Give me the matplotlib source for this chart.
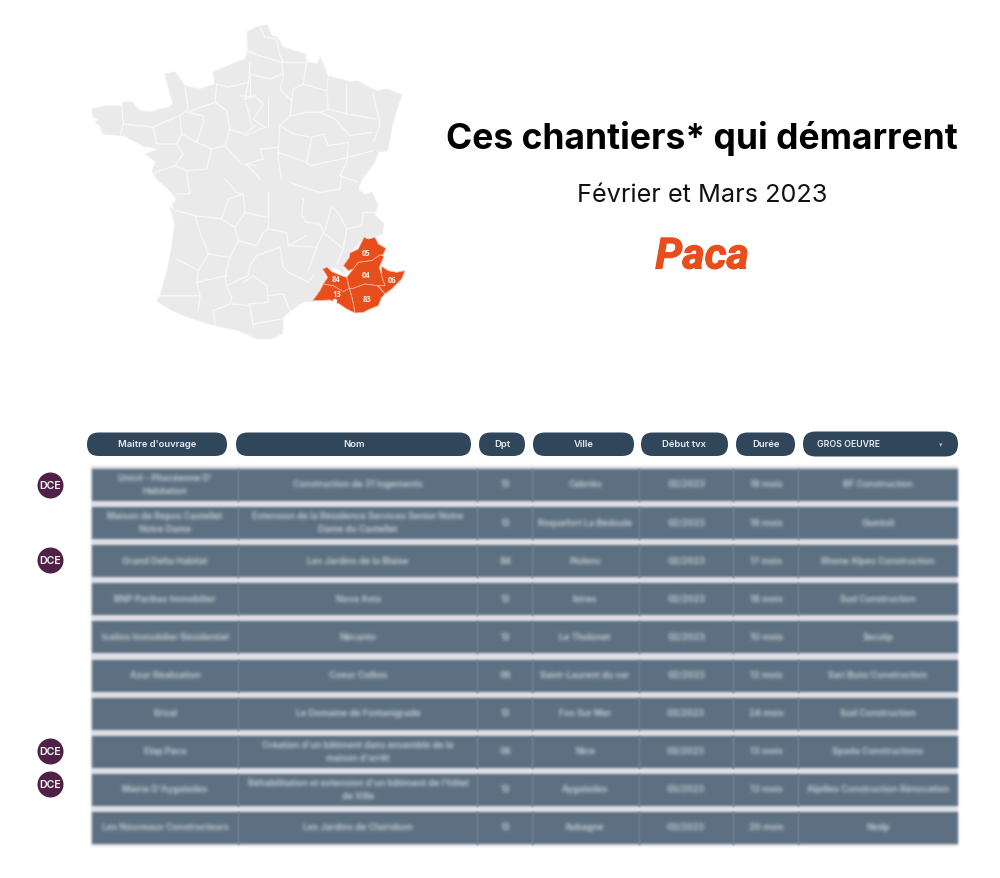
import numpy as np
import matplotlib
matplotlib.use("Agg")
import matplotlib.pyplot as plt
import matplotlib.patheffects as pe
from matplotlib.patches import Polygon, Rectangle, Circle, FancyBboxPatch

# Contour de la France (pixels)
france_outline = [(247,33),(257,28),(267,26),(272,37),(277,38),(283,48),(295,52),(305,55),(307,63),(318,65),(320,58),
    (323,65),(328,77),(340,80),(350,83),(358,82),(368,88),(377,92),(387,90),(402,96),(397,110),(392,127),(390,140),
    (387,152),(378,153),(375,163),(370,170),(362,180),(358,190),(365,196),(372,193),(378,207),(374,215),(384,225),
    (382,235),(373,238),(364,238),(350,254),(343,267),(345,275),(335,268),(323,270),(327,285),(313,302),(303,303),
    (290,312),(283,318),(283,328),(282,335),(270,340),(257,340),(240,332),(217,327),(193,320),(173,312),(157,302),
    (160,297),(167,273),(172,247),(175,225),(170,208),(174,212),(185,233),(176,214),(172,205),(177,200),(168,190),
    (157,180),(152,172),(156,163),(145,155),(160,150),(143,147),(125,137),(103,135),(100,127),(95,123),(100,120),
    (93,118),(92,110),(105,107),(122,107),(123,103),(132,103),(140,112),(152,113),(160,110),(170,108),(173,105),
    (165,75),(175,73),(185,87),(200,90),(215,85),(213,73),(225,68),(245,60),(248,52)]

# Limites des departements, par zone de l'image (zoom x3)
borders_nw = [
    [(110,250),(115,315),(105,350)], [(115,315),(160,320),(205,325)], [(205,325),(235,310),(285,290),(310,270),(300,205)],
    [(285,290),(290,345),(275,375),(215,375),(205,325)], [(290,345),(335,370),(355,310),(355,290),(305,280)],
    [(305,280),(390,250),(395,195)], [(390,250),(425,275),(435,330),(420,380),(380,390),(335,370)],
    [(380,390),(365,450),(305,455),(270,440),(210,460)], [(275,375),(295,405),(270,440)],
    [(430,330),(480,345),(510,320)], [(395,195),(430,205),(490,190)], [(490,190),(480,240),(510,230)],
    [(480,240),(500,320)], [(420,380),(470,435),(510,440)], [(490,95),(510,100)], [(495,130),(490,190)],
    [(305,455),(310,495)],
]
borders_ne = [
    [(10,95),(60,110),(110,125),(125,130),(200,130)], [(60,25),(75,55),(110,60),(120,110),(130,130)],
    [(125,130),(130,170),(120,210),(155,245)], [(200,130),(190,195),(160,210),(155,245),(150,290),(120,320)],
    [(190,195),(260,215),(265,270),(240,280)], [(265,170),(260,215)], [(320,195),(320,285),(265,270)],
    [(320,285),(410,300)], [(400,225),(415,290),(420,320),(400,370)], [(240,280),(200,280),(155,290)],
    [(240,280),(285,300),(330,350),(395,340)], [(120,320),(160,345),(215,355),(250,345),(265,380),(325,370)],
    [(120,320),(115,385),(60,390)], [(0,230),(50,235),(70,255),(40,300),(75,325)], [(30,165),(30,230)],
    [(30,165),(90,180),(125,165)], [(75,325),(15,350)], [(85,235),(85,325)],
    [(215,355),(200,430),(210,440),(305,420),(400,395)], [(325,370),(320,430),(300,470),(355,490)],
    [(115,385),(115,420),(125,480)], [(115,400),(200,430)], [(60,390),(70,420),(20,435),(60,480)],
]
borders_sw = [
    [(80,45),(120,45),(115,15)], [(80,95),(135,110),(215,120),(235,60),(280,45)], [(280,45),(260,40),(225,0)],
    [(280,45),(285,100),(255,145),(215,120)], [(285,100),(355,115),(355,40)], [(355,150),(410,160),(415,200)],
    [(255,145),(265,185),(320,200),(340,160),(355,150),(355,115)], [(135,110),(155,175),(175,225),(240,235),(265,185)],
    [(175,225),(145,275),(80,240)], [(145,275),(140,310),(230,290)],
    [(240,235),(225,295),(230,320),(295,290),(300,260),(320,230),(390,205),(400,265),(415,280),(475,310),(490,290)],
    [(140,310),(150,350),(20,350)], [(150,350),(145,395)], [(230,320),(245,355),(240,375),(190,395),(195,440)],
    [(245,375),(300,380),(310,445)], [(310,435),(395,420)], [(280,310),(310,290),(350,320),(355,370),(295,375)],
    [(355,350),(400,345),(420,395)], [(415,200),(470,170)],
]
borders_se = [
    [(40,90),(35,140),(50,160),(90,165),(100,190),(80,235),(55,305)], [(105,185),(125,110),(150,140),(170,180),(215,170),(220,130),(265,130)],
    [(0,230),(80,235)], [(0,40),(40,55),(90,70),(150,60),(155,20)], [(170,180),(160,240),(140,285)], [(100,190),(160,240)],
]

# Departements de la region Paca (zoom x3 autour de x=290, y=170)
dept_05 = [(222,205),(235,210),(255,205),(265,225),(288,238),(280,255),(265,262),(245,275),(205,280),(190,300),(175,305),(160,290),(178,265),(180,252),(205,240)]
dept_04 = [(205,280),(245,275),(270,258),(282,262),(268,295),(275,320),(285,350),(262,350),(225,345),(190,358),(178,358),(170,325),(190,300)]
dept_06 = [(275,292),(295,305),(320,310),(345,305),(335,330),(320,345),(305,360),(285,375),(265,350),(285,350),(275,320)]
dept_83 = [(178,358),(190,358),(225,345),(262,350),(285,375),(275,385),(265,410),(240,420),(220,430),(195,432),(187,390)]
dept_13 = [(100,345),(130,350),(160,365),(178,358),(187,390),(195,432),(170,420),(148,405),(120,393),(68,395),(90,365)]
dept_84 = [(98,300),(112,295),(125,308),(155,320),(170,325),(178,358),(160,368),(130,350),(100,345),(113,325)]
paca_depts = [dept_05, dept_04, dept_06, dept_83, dept_13, dept_84]
dept_labels = ["05", "04", "06", "83", "84", "13"]
label_x = [366, 366, 392, 367, 336, 337]
label_y = [254, 276, 281, 300, 280, 295]

# Tableau
headers = ["Maitre d'ouvrage", "Nom", "Dpt", "Ville", "Début tvx", "Durée"]
header_left = [87, 236, 479, 533, 641, 736]
header_right = [227, 471, 525, 634, 728, 795]
dividers = [238, 477, 532, 639, 733, 798]
col_centers = [165, 358, 505, 585, 686, 766, 878]

maitres = ["Unicil - Phocéenne D'\nHabitation", "Maison de Repos Castellet\nNotre Dame", "Grand Delta Habitat",
    "BNP Paribas Immobilier", "Icelios Immobilier Résidentiel", "Azur Réalisation", "Erival", "Elap Paca",
    "Mairie D'Aygalades", "Les Nouveaux Constructeurs"]
noms = ["Construction de 31 logements", "Extension de la Résidence Services Senior Notre\nDame du Castellet",
    "Les Jardins de la Blaïse", "Nova Asta", "Nécanto", "Coeur Collois", "Le Domaine de Fontanigrade",
    "Création d'un bâtiment dans ensemble de la\nmaison d'arrêt",
    "Réhabilitation et extension d'un bâtiment de l'hôtel\nde Ville", "Les Jardins de Clairidium"]
dpts = ["13", "13", "84", "13", "13", "06", "13", "06", "13", "13"]
villes = ["Cabriès", "Roquefort La Bédoule", "Piolenc", "Istres", "Le Tholonet", "Saint-Laurent du var",
    "Fos Sur Mer", "Nice", "Aygalades", "Aubagne"]
debuts = ["02/2023"] * 6 + ["03/2023"] * 4
durees = ["18 mois", "18 mois", "17 mois", "18 mois", "10 mois", "12 mois", "24 mois", "13 mois", "13 mois", "20 mois"]
gros_oeuvre = ["BF Construction", "Guintoli", "Rhone Alpes Construction", "Sud Construction", "Socotp",
    "Sari Buisi Construction", "Sud Construction", "Spada Constructions", "Alpilles Construction Rénovation", "Nodp"]
dce_y = [486.5, 561.5, 752.5, 785.5]

GREY_MAP = "#ebebeb"
ORANGE = "#e84e1b"
HEADER = "#30465a"
ROW = "#5c7082"
GAP = "#dfe0e6"
PURPLE = "#4f2147"


def blur(sigma):
    # flou gaussien applique au rendu d'un element
    def _filter(im, dpi):
        pad = int(3 * sigma) + 1
        xs = np.arange(-pad, pad + 1)
        kernel = np.exp(-xs ** 2 / (2 * sigma ** 2))
        kernel /= kernel.sum()
        im = np.pad(im, ((pad, pad), (pad, pad), (0, 0)))
        pm = im.copy()
        pm[..., :3] *= pm[..., 3:]
        for axis in (0, 1):
            pm = sum(k * np.roll(pm, s, axis=axis) for k, s in zip(kernel, xs))
        alpha = np.maximum(pm[..., 3:], 1e-4)
        pm[..., :3] = np.clip(pm[..., :3] / alpha, 0, 1)
        return np.clip(pm, 0, 1), -pad, -pad
    return _filter


def crop_xy(points, x0, y0):
    return np.array([(x0 + x / 3, y0 + y / 3) for x, y in points])


fig = plt.figure(figsize=(10, 8.79), dpi=100)
ax = fig.add_axes([0, 0, 1, 1])
ax.set_xlim(0, 1000)
ax.set_ylim(879, 0)
ax.axis("off")

# Carte
ax.add_patch(Polygon(france_outline, closed=True, fc=GREY_MAP, ec=GREY_MAP, lw=0.5, joinstyle="round", agg_filter=blur(0.5)))
for group, x0, y0 in [(borders_nw, 85, 20), (borders_ne, 240, 20), (borders_sw, 150, 180), (borders_se, 290, 170)]:
    for line in group:
        pts = crop_xy(line, x0, y0)
        ax.plot(pts[:, 0], pts[:, 1], color="#fbfbfb", lw=0.8, solid_joinstyle="round", agg_filter=blur(0.45))
for dept in paca_depts:
    ax.add_patch(Polygon(crop_xy(dept, 290, 170), closed=True, fc=ORANGE, ec="#f3b8a2", lw=0.55, joinstyle="round"))
ax.add_patch(Circle((335, 302), 2.2, fc="white", ec="none"))
for lab, x, y in zip(dept_labels, label_x, label_y):
    ax.text(x, y, lab, color="#fdeee8", fontsize=5.5, fontweight="bold", family="Open Sans", ha="center", va="center")

# Titres
ax.text(702, 138, "Ces chantiers* qui démarrent", fontsize=25.5, fontweight="bold", family="Inter",
        color="black", ha="center", va="center")
ax.text(702, 196, "Février et Mars 2023", fontsize=18.2, family="Inter", color="#111111", ha="center", va="center")
ax.text(702, 258, "Paca", fontsize=31, fontweight="bold", style="italic", family="Roboto", color=ORANGE,
        ha="center", va="center", path_effects=[pe.withStroke(linewidth=0.8, foreground=ORANGE)])

# En-tetes
for lab, left, right in zip(headers, header_left, header_right):
    ax.add_patch(FancyBboxPatch((left, 433.5), right - left, 23.5, boxstyle="round,pad=0,rounding_size=11.7",
                                fc=HEADER, ec="none"))
    ax.text((left + right) / 2, 444.5, lab, color="#e8ecef", fontsize=6.8, fontweight="semibold", family="Inter",
            ha="center", va="center")
ax.add_patch(FancyBboxPatch((803, 432.5), 155, 25, boxstyle="round,pad=0,rounding_size=12.5", fc=HEADER, ec="none"))
ax.text(817, 444.5, "GROS OEUVRE", color="#e8ecef", fontsize=6.3, fontweight="semibold", family="Inter", ha="left", va="center")
ax.text(941, 445.5, "▾", color="#a8b3bd", fontsize=5, ha="center", va="center")

# Lignes du tableau (floutees)
ax.add_patch(Rectangle((91, 467), 867, 380, fc=GAP, ec="none", agg_filter=blur(1.2)))
columns = [maitres, noms, dpts, villes, debuts, durees, gros_oeuvre]
for i in range(len(maitres)):
    top = 470 + 38.1 * i
    ax.add_patch(Rectangle((92, top), 866, 32, fc=ROW, ec="none", agg_filter=blur(1.2)))
    for d in dividers:
        ax.plot([d, d], [top, top + 32], color="#738495", lw=1, agg_filter=blur(0.8))
    for xc, col in zip(col_centers, columns):
        ax.text(xc, top + 15, col[i], color="white", fontsize=6.5, fontweight="semibold", family="Inter", ha="center",
                va="center", linespacing=1.6, alpha=0.72, agg_filter=blur(1.8))

# Pastilles DCE
for y in dce_y:
    ax.add_patch(Circle((50.5, y), 13, fc=PURPLE, ec="none"))
    ax.text(50.5, y, "DCE", color="white", fontsize=7.6, fontweight="semibold", family="Inter", ha="center", va="center")

fig.savefig("out.png", dpi=100)
